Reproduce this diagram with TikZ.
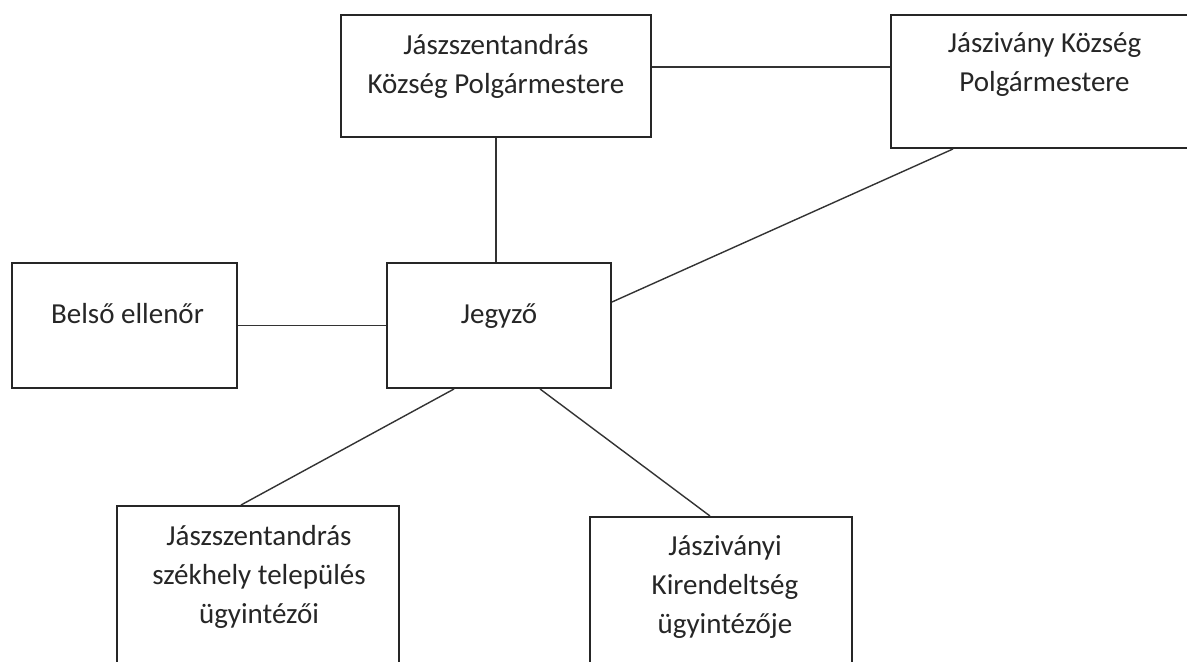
\documentclass[tikz,border=0pt]{standalone}
\usepackage{fontspec}
\setmainfont{Carlito}
\usetikzlibrary{positioning,calc}

\begin{document}
\begin{tikzpicture}[
    x=0.5pt,y=-0.5pt,
    box/.style={draw=black!85,line width=1pt,fill=white,inner sep=0pt},
    txt/.style={align=center,inner sep=0pt,text=black!85,font=\fontsize{14.5pt}{19.5pt}\selectfont},
    link/.style={draw=black!80,line width=0.7pt}
  ]
    \fill[white] (0,0) rectangle (1187,662);
    \path[use as bounding box,clip] (0,0) rectangle (1187,662);

    % Top row - mayors
    \node[box,minimum width=155pt,minimum height=61pt] (jsz) at (496,76) {};
    \node[box,minimum width=149.5pt,minimum height=66.5pt] (jiv) at (1040.5,81.5) {};

    % Middle row
    \node[box,minimum width=112.5pt,minimum height=62.5pt] (bel) at (124.5,325.5) {};
    \node[box,minimum width=112pt,minimum height=62.5pt] (jeg) at (499,325.5) {};

    % Bottom row - staff (cut off at the bottom)
    \node[box,minimum width=141pt,minimum height=97pt] (bl) at (258,603) {};
    \node[box,minimum width=131pt,minimum height=91.5pt] (br) at (721,608.5) {};

    % Texts
    \node[txt] (jsz-t) at ($(jsz.north)+(0,52.5)$) {Jászszentandrás\\Község Polgármestere};
    \node[txt] (jiv-t) at ($(jiv.north)+(4,51)$) {Jászivány Község\\Polgármestere};
    \node[txt] (bel-t) at ($(bel.north)+(3,52)$) {Belső ellenőr};
    \node[txt] (jeg-t) at ($(jeg.north)+(0,54)$) {Jegyző};
    \node[txt] (bl-t) at ($(bl.north)+(1,71.5)$) {Jászszentandrás\\székhely település\\ügyintézői};
    \node[txt] (br-t) at ($(br.north)+(4,71)$) {Jásziványi\\Kirendeltség\\ügyintézője};

    % Connectors
    \draw[link] ($(jsz.east)+(0,-9)$) coordinate (top-l) -- (top-l -| jiv.west);
    \draw[link] (jsz.south) -- (jsz.south |- jeg.north);
    \draw[link] (bel.east) -- (jeg.west);
    \draw[link] ($(jeg.east)+(0,-23.5)$) -- ($(jiv.south)+(-87.5,0)$);
    \draw[link] ($(jeg.south)+(-45,0)$) -- ($(bl.north)+(-17,0)$);
    \draw[link] ($(jeg.south)+(41,0)$) -- ($(br.north)+(-11,0)$);
  \end{tikzpicture}
\end{document}
